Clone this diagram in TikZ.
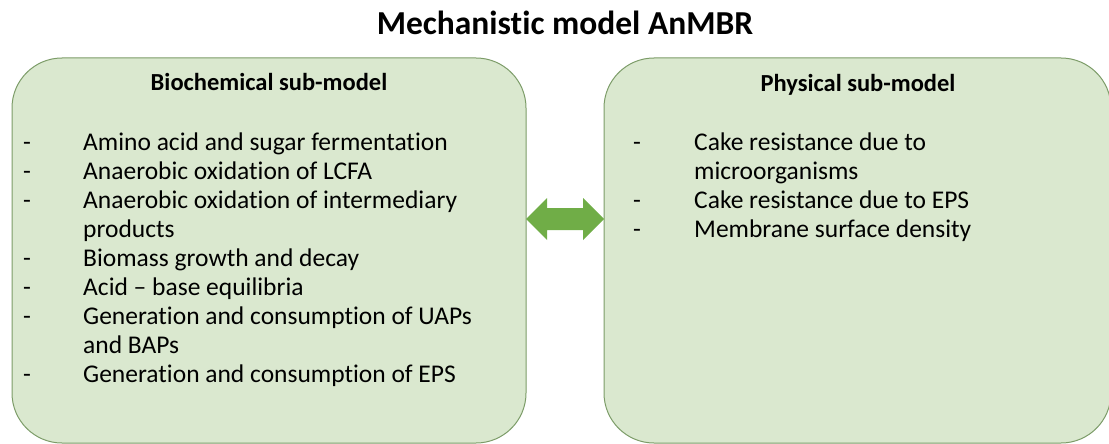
\documentclass[tikz,border=0pt]{standalone}
\usepackage{fontspec}
\setmainfont{Carlito}[Ligatures=NoCommon]
\usepackage{xcolor}
\usepackage{tikz}
\usetikzlibrary{arrows.meta}
\usetikzlibrary{calc}
\usetikzlibrary{positioning}

\definecolor{boxfill}{HTML}{DAE8CF}
\definecolor{boxline}{HTML}{7C9C68}
\definecolor{arrowgreen}{HTML}{70AD47}

\tikzset{
  submodel/.style={draw=boxline, fill=boxfill, line width=1pt, rounded corners=50pt,
    inner sep=0pt, outer sep=0pt, minimum height=385pt},
  heading/.style={anchor=base, font=\fontsize{24.5}{29}\selectfont\bfseries},
  itemdash/.style={anchor=base west, inner sep=0pt, font=\fontsize{25.5}{29}\selectfont},
  itemtext/.style={anchor=base west, inner sep=0pt, font=\fontsize{25.5}{29}\selectfont},
}

\begin{document}
\begin{tikzpicture}[x=1pt, y=-1pt]
    \useasboundingbox (0,0) rectangle (1109,444);
    \node[anchor=base, font=\fontsize{33.5}{40}\selectfont\bfseries] (title) at (565,35) {Mechanistic model AnMBR};
    \node[submodel, minimum width=514pt] (bio) at (269,250.5) {};
    \node[submodel, minimum width=507pt] (phys) at (857.5,250.5) {};
    \node[heading] (biohead) at (269,91) {Biochemical sub-model};
    \node[heading] (physhead) at (858,92) {Physical sub-model};
    % biochemical processes
    \foreach \d/\t [count=\i] in {-/Amino acid and sugar fermentation,
        -/Anaerobic oxidation of LCFA, -/Anaerobic oxidation of intermediary,
        /products, -/Biomass growth and decay, -/Acid – base equilibria,
        -/Generation and consumption of UAPs, /and BAPs,
        -/Generation and consumption of EPS} {
      \node[itemdash] (biod\i) at (23,121+29*\i) {\d};
      \node[itemtext] (biot\i) at (83,121+29*\i) {\t};
    }
    % physical processes
    \foreach \d/\t [count=\i] in {-/Cake resistance due to, /microorganisms,
        -/Cake resistance due to EPS, -/Membrane surface density} {
      \node[itemdash] (physd\i) at (633,121+29*\i) {\d};
      \node[itemtext] (physt\i) at (694,121+29*\i) {\t};
    }
    % double arrow between the two sub-models
    \coordinate (la) at ([yshift=31.5pt]bio.east);
    \coordinate (ra) at ([yshift=31.5pt]phys.west);
    \fill[arrowgreen] (la) -- ++(21,-21) -- ++(0,10) -- ($(ra)+(-21,-11)$) -- ++(0,-10)
      -- (ra) -- ++(-21,21) -- ++(0,-10) -- ($(la)+(21,11)$) -- ++(0,10) -- cycle;
  \end{tikzpicture}
\end{document}
